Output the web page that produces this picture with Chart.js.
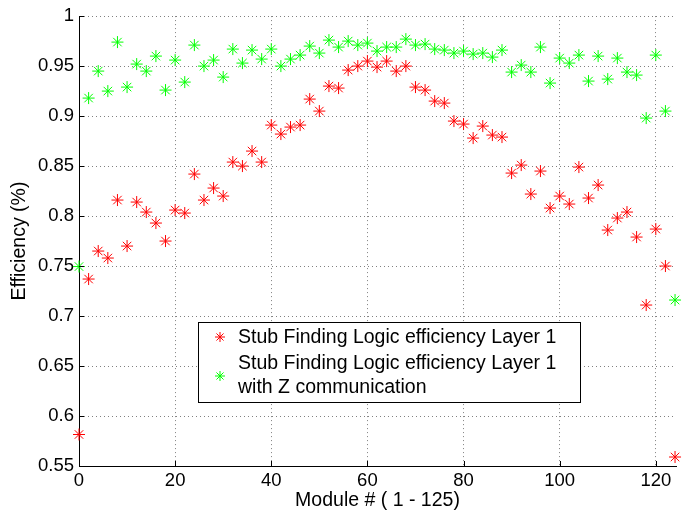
<!DOCTYPE html>
<html>
<head>
<meta charset="utf-8">
<script src="https://cdn.jsdelivr.net/npm/chart.js@4"></script>
<style>
  html, body { margin: 0; padding: 0; background: #fff; overflow: hidden; }
  #wrap { position: relative; width: 683px; height: 515px; }
</style>
</head>
<body>
<div id="wrap"><canvas id="effChart"></canvas></div>
<script>
// module numbers (x)
const modules = [0, 2, 4, 6, 8, 10, 12, 14, 16, 18, 20, 22, 24, 26, 28, 30, 32, 34, 36, 38,
    40, 42, 44, 46, 48, 50, 52, 54, 56, 58, 60, 62, 64, 66, 68, 70, 72, 74, 76, 78,
    80, 82, 84, 86, 88, 90, 92, 94, 96, 98, 100, 102, 104, 106, 108, 110, 112, 114, 116, 118,
    120, 122, 124];

// Stub Finding Logic efficiency Layer 1
const effLayer1 = [0.5815, 0.737, 0.765, 0.758, 0.816, 0.770, 0.814, 0.804, 0.793, 0.775,
    0.806, 0.803, 0.842, 0.816, 0.828, 0.820, 0.854, 0.850, 0.865, 0.854,
    0.891, 0.882, 0.889, 0.891, 0.917, 0.905, 0.930, 0.928, 0.946, 0.950,
    0.955, 0.949, 0.955, 0.945, 0.950, 0.929, 0.926, 0.915, 0.913, 0.895,
    0.892, 0.878, 0.890, 0.881, 0.879, 0.843, 0.851, 0.822, 0.845, 0.808,
    0.820, 0.812, 0.849, 0.818, 0.831, 0.786, 0.798, 0.804, 0.779, 0.711,
    0.787, 0.750, 0.559];

// ... with Z communication
const effLayer1Z = [0.7495, 0.918, 0.945, 0.925, 0.974, 0.929, 0.952, 0.945, 0.960, 0.926,
    0.956, 0.934, 0.971, 0.950, 0.956, 0.939, 0.967, 0.953, 0.966, 0.957,
    0.967, 0.950, 0.957, 0.961, 0.970, 0.963, 0.976, 0.969, 0.975, 0.971,
    0.973, 0.965, 0.969, 0.969, 0.977, 0.971, 0.972, 0.967, 0.966, 0.963,
    0.965, 0.962, 0.963, 0.959, 0.966, 0.944, 0.951, 0.944, 0.969, 0.933,
    0.958, 0.953, 0.961, 0.935, 0.960, 0.937, 0.958, 0.944, 0.941, 0.898,
    0.961, 0.905, 0.716];

const xTicks = [0, 20, 40, 60, 80, 100, 120];
const yTicks = [0.55, 0.6, 0.65, 0.7, 0.75, 0.8, 0.85, 0.9, 0.95, 1];

const FONT = '"Liberation Sans", Arial, Helvetica, sans-serif';

function toPoints(ys) {
    return modules.map((x, i) => ({ x: x, y: ys[i] }));
}

// MATLAB-style ticks pointing into the plot
const innerTicks = {
    id: 'innerTicks',
    afterDraw(chart) {
        const ctx = chart.ctx;
        const area = chart.chartArea;
        const xs = chart.scales.x, ys = chart.scales.y;
        ctx.save();
        ctx.strokeStyle = '#000';
        ctx.lineWidth = 1;
        ctx.beginPath();
        xTicks.forEach(v => {
            const px = Math.round(xs.getPixelForValue(v)) + 0.5;
            ctx.moveTo(px, area.bottom);
            ctx.lineTo(px, area.bottom - 5);
        });
        yTicks.forEach(v => {
            const py = Math.round(ys.getPixelForValue(v)) + 0.5;
            ctx.moveTo(area.left, py);
            ctx.lineTo(area.left + 5, py);
        });
        ctx.stroke();
        ctx.restore();
    }
};

// boxed legend inside the axes
const boxLegend = {
    id: 'boxLegend',
    afterDraw(chart) {
        const ctx = chart.ctx;
        const ds = chart.data.datasets;
        ctx.save();
        ctx.fillStyle = '#fff';
        ctx.fillRect(198, 322, 382, 80);
        ctx.strokeStyle = '#000';
        ctx.lineWidth = 1;
        ctx.strokeRect(198.5, 322.5, 382, 80);

        ctx.font = '19.5px ' + FONT;
        ctx.fillStyle = '#000';
        ctx.textBaseline = 'middle';
        ctx.fillText(ds[0].label, 238, 338);
        const lines = ds[1].label.split('\n');
        ctx.fillText(lines[0], 238, 364);
        ctx.fillText(lines[1], 238, 388);

        const mark = { pointStyle: 'star', radius: 5, borderWidth: 1 };
        ctx.strokeStyle = ds[0].borderColor;
        Chart.helpers.drawPoint(ctx, mark, 220, 337);
        ctx.strokeStyle = ds[1].borderColor;
        Chart.helpers.drawPoint(ctx, mark, 220, 376);
        ctx.restore();
    }
};

new Chart(document.getElementById('effChart'), {
    type: 'scatter',
    data: {
        datasets: [{
            label: 'Stub Finding Logic efficiency Layer 1',
            data: toPoints(effLayer1),
            pointStyle: 'star',
            pointRadius: 6,
            pointBorderWidth: 1,
            borderColor: '#ff0000',
            backgroundColor: '#ff0000',
            clip: false
        }, {
            label: 'Stub Finding Logic efficiency Layer 1\nwith Z communication',
            data: toPoints(effLayer1Z),
            pointStyle: 'star',
            pointRadius: 6,
            pointBorderWidth: 1,
            borderColor: '#00ff00',
            backgroundColor: '#00ff00',
            clip: false
        }]
    },
    options: {
        responsive: true,
        maintainAspectRatio: false,
        animation: false,
        layout: { padding: { top: 13, right: 0, bottom: 0, left: 0 } },
        plugins: {
            legend: { display: false },
            tooltip: { enabled: false }
        },
        scales: {
            x: {
                type: 'linear',
                min: 0,
                max: 124.2,
                afterBuildTicks: scale => { scale.ticks = xTicks.map(v => ({ value: v })); },
                afterFit: scale => { scale.height = 49; },
                grid: { color: '#808080', lineWidth: 1, drawTicks: false },
                border: { display: true, color: '#000', width: 1, dash: [1, 3] },
                ticks: {
                    color: '#000',
                    padding: 4,
                    maxRotation: 0,
                    font: { family: FONT, size: 18.5 }
                },
                title: {
                    display: true,
                    text: 'Module # ( 1 - 125)',
                    color: '#000',
                    padding: { top: 0, bottom: 3 },
                    font: { family: FONT, size: 19.5 }
                }
            },
            y: {
                min: 0.55,
                max: 1,
                afterBuildTicks: scale => { scale.ticks = yTicks.map(v => ({ value: v })); },
                afterFit: scale => { scale.width = 79; },
                grid: { color: '#808080', lineWidth: 1, drawTicks: false },
                border: { display: true, color: '#000', width: 1, dash: [1, 3] },
                ticks: {
                    color: '#000',
                    padding: 5,
                    font: { family: FONT, size: 18.5 },
                    callback: v => String(v)
                },
                title: {
                    display: true,
                    text: 'Efficiency (%)',
                    color: '#000',
                    padding: { top: 8, bottom: 0 },
                    font: { family: FONT, size: 19.5 }
                }
            }
        }
    },
    plugins: [innerTicks, boxLegend]
});
</script>
</body>
</html>
